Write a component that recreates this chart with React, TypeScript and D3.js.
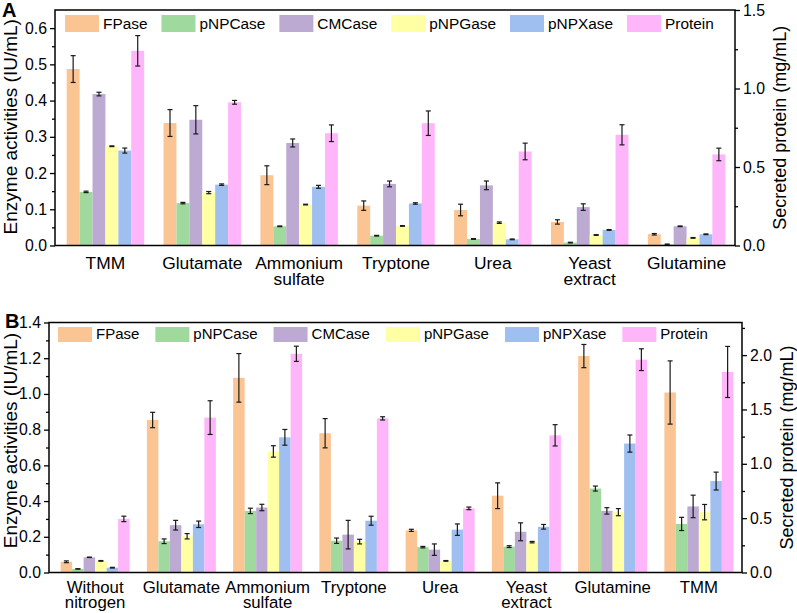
import React, { useEffect, useRef } from 'react';
import * as d3 from 'd3';

// series names + colours
const seriesNames = ['FPase', 'pNPCase', 'CMCase', 'pNPGase', 'pNPXase', 'Protein'];
const seriesColors = ['#fbc593', '#9fd99d', '#bdaad3', '#ffffa3', '#9fbff1', '#ffb5f9'];

// panel A
const categoriesA = ['TMM', 'Glutamate', 'Ammonium\nsulfate', 'Tryptone', 'Urea', 'Yeast\nextract', 'Glutamine'];
const fpaseA = [0.487, 0.338, 0.194, 0.11, 0.098, 0.065, 0.031];
const fpaseErrA = [0.037, 0.037, 0.026, 0.013, 0.016, 0.006, 0.002];
const pnpcaseA = [0.148, 0.117, 0.053, 0.027, 0.018, 0.008, 0.003];
const pnpcaseErrA = [0.002, 0.002, 0.001, 0.001, 0.001, 0.001, 0.001];
const cmcaseA = [0.418, 0.347, 0.283, 0.17, 0.166, 0.106, 0.053];
const cmcaseErrA = [0.005, 0.039, 0.011, 0.008, 0.012, 0.009, 0.001];
const pnpgaseA = [0.274, 0.146, 0.113, 0.054, 0.063, 0.029, 0.021];
const pnpgaseErrA = [0.001, 0.003, 0.001, 0.001, 0.002, 0.001, 0.001];
const pnpxaseA = [0.262, 0.168, 0.162, 0.116, 0.017, 0.043, 0.031];
const pnpxaseErrA = [0.007, 0.002, 0.004, 0.002, 0.001, 0.001, 0.001];
const proteinA = [1.24, 0.912, 0.715, 0.779, 0.599, 0.705, 0.58]; // mg/mL, right axis
const proteinErrA = [0.097, 0.012, 0.053, 0.078, 0.053, 0.064, 0.04];

// panel B
const categoriesB = ['Without\nnitrogen', 'Glutamate', 'Ammonium\nsulfate', 'Tryptone', 'Urea', 'Yeast\nextract', 'Glutamine', 'TMM'];
const fpaseB = [0.06, 0.854, 1.09, 0.78, 0.236, 0.43, 1.212, 1.008];
const fpaseErrB = [0.005, 0.043, 0.136, 0.082, 0.006, 0.072, 0.065, 0.177];
const pnpcaseB = [0.02, 0.175, 0.345, 0.178, 0.142, 0.145, 0.47, 0.272];
const pnpcaseErrB = [0.001, 0.013, 0.015, 0.015, 0.004, 0.005, 0.014, 0.037];
const cmcaseB = [0.085, 0.265, 0.364, 0.212, 0.128, 0.228, 0.345, 0.37];
const cmcaseErrB = [0.001, 0.027, 0.018, 0.08, 0.032, 0.05, 0.018, 0.063];
const pnpgaseB = [0.065, 0.203, 0.678, 0.173, 0.065, 0.17, 0.338, 0.338];
const pnpgaseErrB = [0.002, 0.015, 0.032, 0.013, 0.002, 0.004, 0.02, 0.043];
const pnpxaseB = [0.027, 0.27, 0.757, 0.29, 0.24, 0.256, 0.722, 0.512];
const pnpxaseErrB = [0.002, 0.018, 0.044, 0.025, 0.032, 0.013, 0.048, 0.05];
const proteinB = [0.493, 1.425, 2.012, 1.418, 0.59, 1.262, 1.958, 1.845];
const proteinErrB = [0.025, 0.155, 0.07, 0.015, 0.012, 0.098, 0.1, 0.235];

const FONT = '"Liberation Sans", Arial, sans-serif';

const panels = [
  {
    letter: 'A', letterX: 2, letterY: 17,
    x0: 55, x1: 735, top: 10, bottom: 245.5, bandRange: [57, 735],
    leftMax: 0.65, leftTicks: d3.range(0, 0.61, 0.1), leftMinor: d3.range(0.05, 0.65, 0.1),
    rightMax: 1.5, rightTicks: [0, 0.5, 1, 1.5], rightMinor: [0.25, 0.75, 1.25],
    legendX: 65, legendY: 15, legendH: 17, legendFont: 15.4, legendGap: 14,
    labelFont: 17.4, labelDy: 23, labelLine: 16, titleShift: -1,
    cats: categoriesA,
    values: [fpaseA, pnpcaseA, cmcaseA, pnpgaseA, pnpxaseA, proteinA],
    errors: [fpaseErrA, pnpcaseErrA, cmcaseErrA, pnpgaseErrA, pnpxaseErrA, proteinErrA],
  },
  {
    letter: 'B', letterX: 5, letterY: 328,
    x0: 49, x1: 742, top: 322.5, bottom: 572.5, bandRange: [52, 742],
    leftMax: 1.4, leftTicks: d3.range(0, 1.41, 0.2), leftMinor: d3.range(0.1, 1.4, 0.2),
    rightMax: 2.3, rightTicks: [0, 0.5, 1, 1.5, 2], rightMinor: [0.25, 0.75, 1.25, 1.75, 2.25],
    legendX: 58, legendY: 327, legendH: 15, legendFont: 15, legendGap: 16,
    labelFont: 16.8, labelDy: 20.5, labelLine: 15, titleShift: -7,
    cats: categoriesB,
    values: [fpaseB, pnpcaseB, cmcaseB, pnpgaseB, pnpxaseB, proteinB],
    errors: [fpaseErrB, pnpcaseErrB, cmcaseErrB, pnpgaseErrB, pnpxaseErrB, proteinErrB],
  },
];

const App = () => {
  const svgRef = useRef(null);

  useEffect(() => {
    const svg = d3.select(svgRef.current);
    svg.selectAll('*').remove();

    panels.forEach((p) => {
      const g = svg.append('g');
      const yL = d3.scaleLinear().domain([0, p.leftMax]).range([p.bottom, p.top]);
      const yR = d3.scaleLinear().domain([0, p.rightMax]).range([p.bottom, p.top]);
      const x0 = d3.scaleBand().domain(p.cats).range(p.bandRange).paddingInner(0.2).paddingOuter(0.1);
      const x1 = d3.scaleBand().domain(seriesNames).range([0, x0.bandwidth()]);

      // bars + error bars
      seriesNames.forEach((name, si) => {
        const y = si === 5 ? yR : yL;
        const vals = p.values[si];
        const errs = p.errors[si];
        const sg = g.append('g');
        sg.selectAll('rect')
          .data(vals)
          .join('rect')
          .attr('x', (d, i) => x0(p.cats[i]) + x1(name))
          .attr('y', (d) => y(d))
          .attr('width', x1.bandwidth())
          .attr('height', (d) => p.bottom - y(d))
          .attr('fill', seriesColors[si]);

        vals.forEach((v, i) => {
          const cx = x0(p.cats[i]) + x1(name) + x1.bandwidth() / 2;
          const yt = y(v + errs[i]);
          const yb = y(Math.max(0, v - errs[i]));
          const eg = sg.append('g').attr('stroke', '#1a1a1a').attr('stroke-width', 1.2);
          eg.append('line').attr('x1', cx).attr('x2', cx).attr('y1', yt).attr('y2', yb);
          eg.append('line').attr('x1', cx - 2.5).attr('x2', cx + 2.5).attr('y1', yt).attr('y2', yt);
          eg.append('line').attr('x1', cx - 2.5).attr('x2', cx + 2.5).attr('y1', yb).attr('y2', yb);
        });
      });

      // frame
      g.append('rect')
        .attr('x', p.x0).attr('y', p.top)
        .attr('width', p.x1 - p.x0).attr('height', p.bottom - p.top)
        .attr('fill', 'none').attr('stroke', '#000').attr('stroke-width', 1.5);

      // left axis
      g.append('g').attr('transform', `translate(${p.x0},0)`)
        .call(d3.axisLeft(yL).tickValues(p.leftTicks).tickFormat(d3.format('.1f')).tickSize(5).tickPadding(3).tickSizeOuter(0));
      g.append('g').attr('transform', `translate(${p.x0},0)`)
        .call(d3.axisLeft(yL).tickValues(p.leftMinor).tickFormat(() => '').tickSize(3).tickSizeOuter(0));

      // right axis
      g.append('g').attr('transform', `translate(${p.x1},0)`)
        .call(d3.axisRight(yR).tickValues(p.rightTicks).tickFormat(d3.format('.1f')).tickSize(5).tickPadding(3).tickSizeOuter(0));
      g.append('g').attr('transform', `translate(${p.x1},0)`)
        .call(d3.axisRight(yR).tickValues(p.rightMinor).tickFormat(() => '').tickSize(3).tickSizeOuter(0));

      g.selectAll('.domain').remove();
      g.selectAll('.tick line').attr('stroke', '#000').attr('stroke-width', 1.3);
      g.selectAll('.tick text').attr('font-family', FONT).attr('font-size', 15.8).attr('fill', '#000');

      // category labels
      p.cats.forEach((c) => {
        const cx = x0(c) + x0.bandwidth() / 2;
        const t = g.append('text')
          .attr('x', cx)
          .attr('y', p.bottom + p.labelDy)
          .attr('text-anchor', 'middle')
          .attr('font-family', FONT).attr('font-size', p.labelFont);
        c.split('\n').forEach((line, li) => {
          t.append('tspan').attr('x', cx).attr('dy', li === 0 ? 0 : p.labelLine).text(line);
        });
      });

      // axis titles
      const midY = (p.top + p.bottom) / 2 + p.titleShift;
      g.append('text')
        .attr('transform', `translate(17,${midY}) rotate(-90)`)
        .attr('text-anchor', 'middle')
        .attr('font-family', FONT).attr('font-size', 19)
        .text('Enzyme activities (IU/mL)');
      g.append('text')
        .attr('transform', `translate(${p.x1 + 51},${(p.top + p.bottom) / 2}) rotate(-90)`)
        .attr('text-anchor', 'middle')
        .attr('font-family', FONT).attr('font-size', 18)
        .text('Secreted protein (mg/mL)');

      // panel letter
      g.append('text')
        .attr('x', p.letterX).attr('y', p.letterY)
        .attr('font-family', FONT).attr('font-weight', 'bold').attr('font-size', 20)
        .text(p.letter);

      // legend
      let lx = p.legendX;
      seriesNames.forEach((name, si) => {
        g.append('rect').attr('x', lx).attr('y', p.legendY).attr('width', 34).attr('height', p.legendH)
          .attr('fill', seriesColors[si]);
        const t = g.append('text').attr('x', lx + 38).attr('y', p.legendY + p.legendH - 3)
          .attr('font-family', FONT).attr('font-size', p.legendFont).text(name);
        const w = t.node().getComputedTextLength();
        lx += 38 + w + p.legendGap;
      });
    });
  }, []);

  return (
    <svg ref={svgRef} width={797} height={613}
      style={{ position: 'absolute', left: 0, top: 0, background: '#fff' }} />
  );
};

export default App;
